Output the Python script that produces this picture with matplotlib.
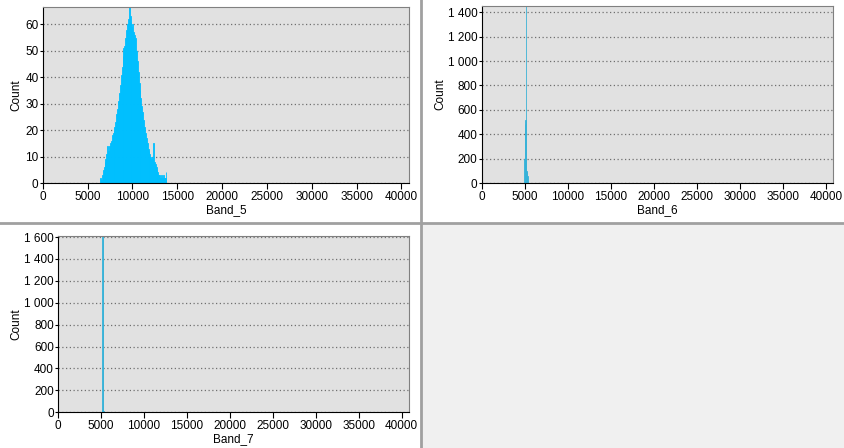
import numpy as np
import matplotlib.pyplot as plt
from matplotlib.ticker import FuncFormatter, MultipleLocator

plt.rcParams['font.family'] = ['Liberation Sans', 'DejaVu Sans']
plt.rcParams['font.size'] = 8.5

# histogram bins (left edge of each bin) and counts
band5_bins = np.arange(6400, 13800, 100)
band5_counts = [2, 1, 3, 5, 6, 8, 9, 11, 14, 12, 14, 15, 16, 18, 19, 20, 21, 23, 26, 28,
                31, 34, 37, 41, 44, 48, 51, 52, 55, 58, 60, 62, 66.7, 63, 61, 59, 60, 57, 56, 55,
                50, 46, 42, 38, 35, 32, 29, 27, 24, 21, 19, 17, 15, 13, 12, 11, 10, 9, 10, 15,
                8, 7, 6, 5, 4, 3, 3, 2, 3, 2, 3, 2, 2, 4]

band6_bins = [4950, 5000, 5050, 5100, 5150, 5200, 5250, 5300]
band6_counts = [200, 480, 520, 300, 1452, 100, 90, 60]

band7_bins = [5100, 5150, 5200, 5250]
band7_counts = [20, 1610, 1580, 10]

# name, bins, counts, bin width, axes box in pixels, y step, x of "Count" label
panels = [
    ("Band_5", band5_bins, band5_counts, 100, [42.7, 6.7, 409, 183], 10, 18),
    ("Band_6", band6_bins, band6_counts, 50, [481.7, 6, 833.3, 183], 200, 442),
    ("Band_7", band7_bins, band7_counts, 50, [58, 236, 409, 412.3], 200, 18),
]

W, H = 845, 448
fig = plt.figure(figsize=(W / 100, H / 100), dpi=100, facecolor='white')

# light gray empty cell bottom right and cell separators
fig.patches.append(plt.Rectangle((422 / W, 0), 1 - 422 / W, 1 - 224 / H,
                                 transform=fig.transFigure, color='#F0F0F0', zorder=0))
fig.add_artist(plt.Line2D([421 / W, 421 / W], [0, 1], color='#A0A0A0', lw=2))
fig.add_artist(plt.Line2D([0, 1], [1 - 223.5 / H, 1 - 223.5 / H], color='#A0A0A0', lw=2))


def thousands(v, pos):
    return '{:,}'.format(int(v)).replace(',', ' ')


for name, bins, counts, width, (x0, y0, x1, y1), ystep, lab_x in panels:
    ax = fig.add_axes([x0 / W, 1 - y1 / H, (x1 - x0) / W, (y1 - y0) / H])
    ax.set_facecolor('#E1E1E1')
    ax.bar(bins, counts, width=width, align='edge', color='#00BFFF',
           edgecolor='#3AB2D6' if width < 100 else '#00BFFF', linewidth=0.6)
    ax.set_xlim(0, 40850)
    ax.set_ylim(0, max(counts))
    ax.xaxis.set_major_locator(MultipleLocator(5000))
    ax.yaxis.set_major_locator(MultipleLocator(ystep))
    ax.yaxis.set_major_formatter(FuncFormatter(thousands))
    ax.grid(axis='y', linestyle=(0, (1, 2)), color='#707070', linewidth=0.9)
    ax.set_axisbelow(True)
    for s in ['top', 'right']:
        ax.spines[s].set_color('#808080')
    for s in ['left', 'bottom']:
        ax.spines[s].set_color('black')
    ax.tick_params(direction='out', width=0.8, labelsize=8.5)
    ax.tick_params(axis='x', length=4, pad=1.5)
    ax.tick_params(axis='y', length=2, pad=1)
    ax.set_xlabel(name, labelpad=1)
    ax.set_ylabel('Count')
    ax.yaxis.set_label_coords((lab_x + 4 - x0) / (x1 - x0), 0.5)

fig.savefig('out.png', dpi=100, facecolor='white')
